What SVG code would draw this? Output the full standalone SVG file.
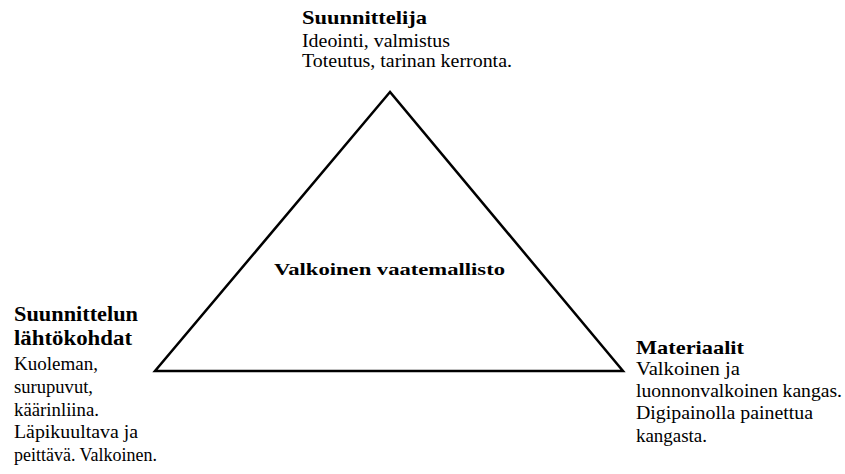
<svg xmlns="http://www.w3.org/2000/svg" width="845" height="474" viewBox="0 0 845 474">
<style>
  text { font-family: "Liberation Serif", "DejaVu Serif", "Times New Roman", serif; font-weight: normal; fill: #000; }
  .h { font-family: "Liberation Serif", "DejaVu Serif", serif; font-weight: bold; font-size: 19px; }
  .h2 { font-family: "Liberation Serif", "DejaVu Serif", serif; font-weight: bold; font-size: 20px; }
  .c { font-family: "Liberation Serif", "DejaVu Serif", serif; font-weight: bold; font-size: 17px; }
  .t { font-family: "Liberation Serif", "DejaVu Serif", serif; font-weight: normal; font-style: normal; font-size: 18px; }
  .tri { fill: none; stroke: #000; stroke-width: 2.5; stroke-linejoin: miter; }
</style>
<rect width="845" height="474" fill="#fff"/>
<g id="triangle">
  <polygon class="tri" points="390,92 155,371 623,371"/>
  <text class="c" x="274" y="275" textLength="231" lengthAdjust="spacingAndGlyphs">Valkoinen vaatemallisto</text>
</g>
<g id="suunnittelija">
  <text class="h" x="302" y="24" textLength="125" lengthAdjust="spacingAndGlyphs">Suunnittelija</text>
  <text class="t" x="302" y="47" textLength="148" lengthAdjust="spacingAndGlyphs">Ideointi, valmistus</text>
  <text class="t" x="302" y="67" textLength="210" lengthAdjust="spacingAndGlyphs">Toteutus, tarinan kerronta.</text>
</g>
<g id="lahtokohdat">
  <text class="h2" x="14" y="321" textLength="124" lengthAdjust="spacingAndGlyphs">Suunnittelun</text>
  <text class="h2" x="14" y="345" textLength="118" lengthAdjust="spacingAndGlyphs">lähtökohdat</text>
  <text class="t" x="14" y="370" textLength="84" lengthAdjust="spacingAndGlyphs">Kuoleman,</text>
  <text class="t" x="14" y="393" textLength="79" lengthAdjust="spacingAndGlyphs">surupuvut,</text>
  <text class="t" x="14" y="416" textLength="85" lengthAdjust="spacingAndGlyphs">käärinliina.</text>
  <text class="t" x="14" y="438" textLength="124" lengthAdjust="spacingAndGlyphs">Läpikuultava ja</text>
  <text class="t" x="14" y="461" textLength="143" lengthAdjust="spacingAndGlyphs">peittävä. Valkoinen.</text>
</g>
<g id="materiaalit">
  <text class="h" x="636" y="354" textLength="108" lengthAdjust="spacingAndGlyphs">Materiaalit</text>
  <text class="t" x="636" y="375" textLength="104" lengthAdjust="spacingAndGlyphs">Valkoinen ja</text>
  <text class="t" x="636" y="397" textLength="206" lengthAdjust="spacingAndGlyphs">luonnonvalkoinen kangas.</text>
  <text class="t" x="636" y="419" textLength="177" lengthAdjust="spacingAndGlyphs">Digipainolla painettua</text>
  <text class="t" x="636" y="442" textLength="71" lengthAdjust="spacingAndGlyphs">kangasta.</text>
</g>
</svg>
